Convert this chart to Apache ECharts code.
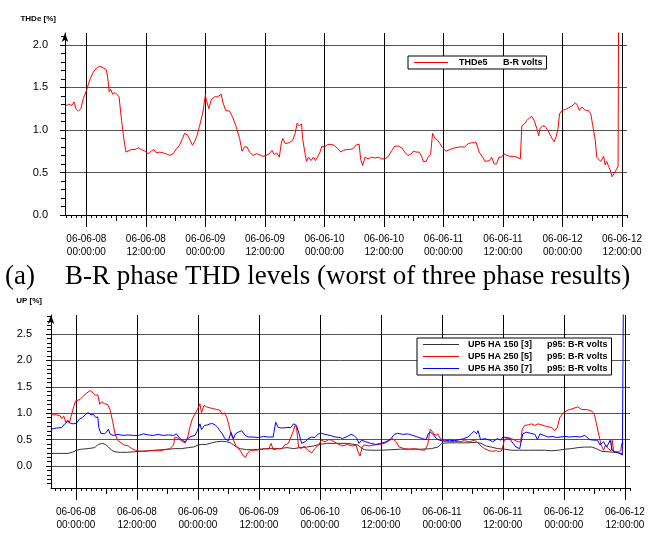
<!DOCTYPE html>
<html>
<head>
<meta charset="utf-8">
<script src="https://cdn.jsdelivr.net/npm/echarts@6/dist/echarts.min.js"></script>
<style>
html, body { margin: 0; padding: 0; background: #fff; }
#chart { width: 648px; height: 541px; }
</style>
</head>
<body>
<div id="chart"></div>
<script>
// x values are hours counted from 06-06-08 00:00:00
var labelHours = [0, 12, 24, 36, 48, 60, 72, 84, 96, 108];
var labelTexts = ['06-06-08\n00:00:00', '06-06-08\n12:00:00', '06-06-09\n00:00:00', '06-06-09\n12:00:00',
    '06-06-10\n00:00:00', '06-06-10\n12:00:00', '06-06-11\n00:00:00', '06-06-11\n12:00:00',
    '06-06-12\n00:00:00', '06-06-12\n12:00:00'];
var yLabelsTop = [0, 0.5, 1.0, 1.5, 2.0];
var yLabelsBottom = [0, 0.5, 1.0, 1.5, 2.0, 2.5];
var thdNames = ['THDe5'];
var thdColors = ['#ff0000'];
var upNames = ['UP5 HA 150 [3]', 'UP5 HA 250 [5]', 'UP5 HA 350 [7]'];
var upColors = ['#333333', '#ff0000', '#0000ff'];

// THDe5 B-R volts
var thdE5 = [[-4.3,1.28],[-3.6,1.30],[-2.9,1.29],[-2.5,1.33],[-2.1,1.25],[-1.6,1.22],[-1.1,1.25],[-0.6,1.37],[0,1.46],[0.7,1.59],[1.4,1.68],[2.1,1.73],[2.7,1.75],[3.4,1.73],[4.0,1.71],[4.3,1.62],[4.6,1.45],[4.9,1.48],[5.3,1.42],[5.8,1.44],[6.2,1.42],[6.6,1.39],[7.1,1.11],[7.6,0.88],[8.0,0.74],[8.4,0.76],[9.1,0.77],[9.8,0.77],[10.5,0.79],[11.1,0.77],[11.8,0.75],[12.5,0.72],[13.1,0.75],[13.6,0.77],[14.1,0.73],[14.8,0.74],[15.5,0.73],[16.1,0.72],[16.8,0.70],[17.5,0.72],[18.2,0.78],[18.8,0.82],[19.4,0.90],[19.8,0.96],[20.4,0.94],[20.8,0.93],[21.4,0.82],[21.8,0.86],[22.3,0.93],[22.8,1.04],[23.5,1.21],[24.0,1.41],[24.2,1.35],[24.7,1.25],[25.2,1.36],[25.9,1.39],[26.5,1.39],[27.2,1.42],[27.5,1.33],[28.1,1.23],[28.9,1.22],[29.5,1.15],[30.2,1.04],[30.9,0.90],[31.4,0.75],[31.9,0.80],[32.4,0.80],[32.9,0.74],[33.6,0.70],[34.3,0.72],[34.9,0.71],[35.6,0.69],[36.2,0.70],[36.9,0.72],[37.4,0.76],[37.9,0.71],[38.4,0.73],[38.9,0.68],[39.3,0.84],[39.6,0.90],[40.1,0.84],[40.9,0.85],[41.6,0.88],[42.1,0.96],[42.5,1.08],[42.9,1.05],[43.4,1.07],[43.6,0.90],[44.1,0.72],[44.4,0.63],[44.8,0.68],[45.3,0.64],[45.8,0.68],[46.2,0.64],[46.6,0.68],[47.1,0.74],[47.5,0.81],[48.0,0.80],[48.7,0.83],[49.3,0.83],[50.0,0.82],[50.7,0.78],[51.3,0.74],[51.8,0.76],[52.5,0.77],[53.1,0.77],[53.8,0.78],[54.5,0.83],[55.0,0.83],[55.3,0.66],[55.7,0.58],[56.2,0.68],[56.8,0.66],[57.5,0.68],[58.2,0.67],[58.9,0.68],[59.5,0.66],[60.2,0.66],[60.9,0.69],[61.5,0.75],[62.2,0.81],[62.9,0.81],[63.6,0.79],[64.2,0.74],[64.8,0.70],[65.4,0.71],[65.9,0.75],[66.5,0.74],[67.1,0.74],[67.6,0.69],[67.9,0.63],[68.5,0.63],[68.9,0.68],[69.4,0.71],[69.8,0.96],[70.3,0.90],[70.8,0.88],[71.3,0.84],[71.8,0.79],[72.5,0.75],[73.3,0.77],[74.3,0.79],[75.3,0.80],[76.3,0.80],[77.0,0.84],[77.7,0.85],[78.6,0.85],[78.8,0.86],[79.2,0.74],[79.9,0.68],[80.4,0.63],[80.8,0.61],[81.3,0.64],[81.7,0.68],[82.2,0.60],[82.7,0.60],[83.2,0.68],[83.7,0.68],[84.2,0.72],[84.8,0.70],[85.4,0.69],[86.1,0.69],[86.8,0.68],[87.5,0.66],[87.8,1.05],[88.3,1.07],[88.8,1.11],[89.3,1.14],[89.8,1.16],[90.3,1.11],[90.8,1.02],[91.2,0.93],[91.5,1.02],[92.0,1.05],[92.5,1.04],[93.0,1.00],[93.4,1.02],[93.9,0.90],[94.3,0.86],[94.7,0.92],[95.1,1.02],[95.4,1.19],[95.9,1.23],[96.6,1.24],[97.2,1.26],[97.9,1.28],[98.6,1.32],[99.0,1.29],[99.4,1.23],[99.9,1.27],[100.6,1.23],[101.2,1.23],[101.7,1.19],[102.1,1.05],[102.6,0.88],[102.9,0.68],[103.3,0.66],[103.7,0.63],[104.3,0.69],[104.6,0.59],[104.9,0.63],[105.3,0.57],[105.6,0.53],[106.0,0.45],[106.4,0.47],[106.8,0.53],[107.2,0.57],[107.3,2.4]];

// UP5 HA 150 [3] p95
var up150 = [[-4.9,0.24],[-3.5,0.24],[-1.5,0.24],[-0.5,0.27],[0.1,0.30],[1.1,0.32],[2.4,0.33],[3.7,0.35],[4.4,0.41],[5.2,0.43],[5.8,0.41],[6.4,0.36],[7.0,0.30],[7.7,0.27],[8.7,0.26],[10.0,0.26],[11.3,0.27],[12.6,0.28],[14.2,0.29],[15.5,0.30],[16.9,0.31],[18.2,0.32],[19.5,0.33],[20.8,0.33],[22.1,0.35],[23.1,0.36],[24.1,0.40],[24.7,0.41],[25.7,0.41],[26.7,0.44],[27.7,0.46],[28.7,0.47],[29.7,0.46],[30.6,0.43],[31.3,0.38],[32.3,0.33],[33.6,0.31],[34.9,0.31],[36.2,0.32],[37.5,0.33],[38.8,0.33],[40.1,0.33],[41.5,0.35],[42.8,0.33],[44.1,0.35],[45.4,0.36],[46.7,0.38],[48.0,0.41],[49.3,0.43],[50.6,0.43],[52.0,0.43],[53.4,0.43],[55.4,0.40],[56.7,0.31],[58.0,0.30],[60.0,0.30],[62.0,0.31],[63.9,0.32],[65.9,0.32],[67.9,0.32],[69.9,0.33],[71.2,0.36],[72.0,0.43],[73.2,0.44],[75.1,0.44],[77.1,0.44],[78.8,0.45],[79.7,0.43],[80.7,0.38],[81.7,0.36],[83.0,0.33],[84.3,0.32],[85.7,0.30],[87.3,0.30],[89.0,0.30],[90.9,0.30],[92.2,0.30],[93.6,0.29],[94.9,0.30],[96.2,0.32],[97.5,0.33],[98.8,0.35],[100.1,0.36],[101.5,0.36],[102.4,0.33],[103.4,0.28],[104.7,0.27],[106.1,0.26],[107.5,0.24]];

// UP5 HA 250 [5] p95
var up250 = [[-4.9,0.97],[-3.8,0.97],[-3.1,0.95],[-2.8,0.90],[-2.4,0.95],[-2.0,0.83],[-1.6,0.87],[-1.3,0.81],[-1.0,0.92],[-0.5,1.10],[-0.1,1.23],[0.8,1.26],[1.4,1.32],[2.1,1.38],[2.8,1.43],[3.4,1.38],[3.9,1.34],[4.3,1.35],[4.7,1.17],[5.1,1.22],[5.6,1.18],[6.2,1.17],[6.7,1.07],[7.2,0.86],[7.7,0.61],[8.2,0.49],[8.9,0.44],[9.5,0.40],[10.3,0.38],[11.0,0.33],[11.7,0.30],[12.6,0.28],[13.6,0.28],[14.6,0.29],[15.5,0.29],[16.5,0.29],[17.5,0.31],[18.5,0.33],[19.2,0.40],[19.5,0.55],[19.8,0.58],[20.3,0.52],[20.8,0.47],[21.5,0.44],[22.0,0.55],[22.4,0.73],[22.9,0.89],[23.4,0.98],[23.9,1.07],[24.4,1.18],[24.7,1.01],[25.2,1.15],[25.7,1.12],[26.4,1.10],[27.0,1.09],[27.7,1.07],[28.3,1.06],[28.8,0.98],[29.2,1.01],[29.7,0.92],[30.1,0.77],[30.5,0.61],[31.0,0.49],[31.6,0.36],[32.3,0.30],[32.8,0.21],[33.3,0.16],[33.8,0.25],[34.4,0.30],[35.2,0.30],[36.2,0.31],[37.2,0.33],[37.9,0.32],[38.4,0.43],[38.8,0.31],[39.8,0.33],[40.5,0.33],[41.1,0.40],[41.8,0.43],[42.3,0.55],[42.8,0.67],[43.1,0.77],[43.4,0.73],[43.8,0.36],[44.3,0.33],[44.9,0.38],[45.6,0.30],[46.4,0.25],[47.0,0.33],[47.7,0.40],[48.3,0.49],[49.0,0.46],[49.7,0.50],[50.3,0.49],[51.3,0.43],[52.0,0.40],[52.4,0.38],[53.4,0.41],[54.4,0.38],[55.1,0.40],[55.5,0.27],[55.9,0.19],[56.3,0.36],[56.7,0.40],[57.7,0.38],[58.7,0.40],[59.7,0.41],[60.7,0.43],[61.6,0.48],[62.3,0.52],[63.0,0.46],[63.6,0.36],[64.6,0.33],[65.6,0.32],[66.6,0.33],[67.6,0.31],[68.6,0.30],[69.2,0.40],[69.7,0.70],[70.2,0.64],[70.7,0.58],[71.2,0.61],[71.8,0.50],[72.5,0.48],[73.5,0.46],[74.5,0.47],[75.5,0.46],[76.4,0.48],[77.4,0.46],[78.4,0.49],[79.1,0.44],[79.7,0.38],[80.4,0.33],[81.1,0.30],[81.8,0.28],[82.7,0.29],[83.4,0.27],[83.8,0.30],[84.3,0.50],[85.0,0.54],[85.7,0.52],[86.3,0.49],[87.0,0.46],[87.5,0.46],[87.8,0.70],[88.3,0.77],[89.0,0.78],[89.6,0.80],[90.3,0.77],[90.9,0.80],[91.9,0.77],[92.6,0.75],[93.6,0.73],[94.2,0.67],[94.7,0.73],[95.2,0.92],[95.9,1.01],[96.8,1.06],[97.8,1.09],[98.7,1.12],[99.5,1.07],[100.5,1.07],[101.5,1.04],[102.0,0.98],[102.4,0.80],[102.9,0.58],[103.3,0.40],[103.8,0.30],[104.2,0.40],[104.7,0.33],[105.3,0.29],[105.5,0.49],[105.8,0.27],[106.7,0.27],[107.2,0.30],[107.4,0.43],[107.7,0.43]];

// UP5 HA 350 [7] p95
var up350 = [[-4.9,0.70],[-3.8,0.72],[-2.8,0.73],[-2.2,0.80],[-1.5,0.85],[-1.0,0.81],[-0.5,0.80],[0.1,0.81],[0.7,0.89],[1.3,0.92],[1.9,0.98],[2.4,1.01],[3.0,0.97],[3.4,0.98],[3.9,0.92],[4.3,0.93],[4.5,0.73],[4.9,0.62],[5.6,0.61],[6.0,0.64],[6.4,0.70],[6.7,0.61],[7.3,0.58],[8.3,0.60],[9.3,0.58],[10.3,0.59],[11.3,0.58],[12.3,0.58],[13.3,0.61],[14.2,0.59],[15.2,0.58],[16.2,0.60],[17.2,0.58],[18.2,0.59],[19.2,0.58],[19.8,0.61],[20.3,0.54],[20.9,0.49],[21.5,0.46],[22.0,0.52],[22.6,0.56],[23.4,0.58],[23.9,0.67],[24.4,0.80],[24.7,0.69],[25.3,0.77],[25.9,0.78],[26.7,0.81],[27.4,0.78],[27.9,0.73],[28.3,0.67],[28.8,0.61],[29.3,0.52],[30.0,0.48],[30.5,0.64],[31.0,0.52],[31.4,0.61],[31.9,0.64],[32.6,0.67],[33.3,0.58],[33.9,0.55],[34.9,0.55],[35.9,0.54],[36.9,0.56],[37.9,0.55],[38.8,0.55],[39.3,0.83],[39.8,0.73],[40.5,0.72],[41.5,0.73],[42.3,0.73],[42.8,0.80],[43.4,0.77],[43.9,0.61],[44.4,0.43],[45.1,0.46],[45.7,0.52],[46.4,0.55],[47.0,0.54],[47.7,0.61],[48.3,0.62],[49.0,0.60],[50.0,0.58],[51.0,0.55],[52.0,0.54],[52.4,0.52],[53.4,0.56],[54.1,0.60],[54.7,0.58],[55.3,0.52],[55.7,0.43],[56.2,0.49],[57.0,0.46],[58.0,0.43],[59.0,0.41],[60.0,0.43],[61.0,0.46],[62.0,0.52],[62.6,0.60],[63.3,0.62],[64.3,0.60],[65.3,0.61],[66.3,0.58],[67.2,0.55],[68.2,0.52],[68.9,0.50],[69.3,0.61],[69.7,0.64],[70.2,0.61],[70.9,0.52],[71.5,0.49],[72.4,0.47],[73.5,0.49],[74.5,0.48],[75.5,0.50],[76.3,0.52],[77.1,0.55],[77.8,0.61],[78.3,0.66],[78.8,0.61],[79.1,0.67],[79.6,0.50],[80.4,0.52],[81.4,0.49],[82.0,0.46],[82.9,0.52],[83.6,0.49],[84.0,0.55],[84.7,0.54],[85.3,0.52],[86.0,0.43],[86.6,0.36],[87.3,0.33],[87.6,0.32],[87.9,0.61],[88.6,0.64],[89.5,0.62],[90.3,0.60],[90.8,0.50],[91.3,0.61],[92.1,0.58],[92.9,0.55],[93.9,0.56],[94.5,0.54],[95.2,0.55],[96.2,0.56],[97.2,0.55],[98.2,0.56],[99.2,0.55],[100.1,0.58],[101.1,0.50],[102.0,0.49],[102.6,0.49],[103.1,0.40],[103.8,0.46],[104.4,0.36],[105.1,0.49],[105.5,0.30],[106.1,0.27],[106.7,0.25],[107.5,0.21],[107.7,3.2]];

var FONT = '"Liberation Sans", Arial, sans-serif';

function range(a, b, step) {
    var out = [];
    for (var v = a; v <= b; v += step) out.push(v);
    return out;
}

function xAxis(gi, min, max, tickValues, tickLen, withLine, withLabels, withSplit) {
    return {
        type: 'value', gridIndex: gi, min: min, max: max, position: 'bottom',
        axisLine: { show: withLine, onZero: false, lineStyle: { color: '#000', width: 1 } },
        axisTick: { show: true, customValues: tickValues, length: tickLen, lineStyle: { color: '#000' } },
        axisLabel: {
            show: withLabels, customValues: labelHours, margin: 18, color: '#000',
            fontFamily: FONT, fontSize: 10, lineHeight: 13,
            formatter: function (v) { return labelTexts[labelHours.indexOf(v)]; }
        },
        splitLine: { show: withSplit, lineStyle: { color: '#000', width: 1 } }
    };
}

// three stacked x axes per grid: hour ticks + labels, 6h ticks, 12h ticks with grid lines
function makeXAxes(gi, min, max) {
    return [
        xAxis(gi, min, max, range(Math.ceil(min), Math.floor(max), 1), 3, true, true, false),
        xAxis(gi, min, max, range(6, 102, 12), 6, false, false, false),
        xAxis(gi, min, max, labelHours, 12, false, false, true)
    ];
}

function makeYAxis(gi, min, max, name, labels, margin, minorSplit) {
    return {
        type: 'value', gridIndex: gi, min: min, max: max,
        name: name, nameLocation: 'end', nameGap: 10,
        nameTextStyle: { fontFamily: FONT, fontWeight: 'bold', fontSize: 8, color: '#000', align: 'right', padding: [0, 9, 0, 0] },
        axisLine: { show: true, onZero: false, symbol: ['none', 'arrow'], symbolSize: [5, 9], lineStyle: { color: '#000' } },
        axisTick: { show: true, customValues: labels, length: 5, lineStyle: { color: '#000' } },
        minorTick: { show: true, splitNumber: minorSplit, length: 4, lineStyle: { color: '#000' } },
        axisLabel: {
            customValues: labels, margin: margin, color: '#000', fontFamily: FONT, fontSize: 11,
            formatter: function (v) { return v.toFixed(1); }
        },
        splitLine: { show: true, lineStyle: { color: '#555', width: 1 } }
    };
}

function lineSeries(name, color, xi, yi, data) {
    return {
        name: name, type: 'line', xAxisIndex: xi, yAxisIndex: yi, data: data,
        symbol: 'none', color: color, lineStyle: { color: color, width: 1 }, itemStyle: { color: color }
    };
}

// legend box: the line key is a coloured rich-text strip, then two text columns
function makeLegend(names, colors, left, top, keyWidth, keyGap, colWidth, lineH, itemGap, suffix) {
    var rich = {
        a: { width: colWidth, padding: [0, 0, 0, keyGap], fontFamily: FONT, fontWeight: 'bold', fontSize: 9, lineHeight: lineH, color: '#000' },
        b: { fontFamily: FONT, fontWeight: 'bold', fontSize: 9, lineHeight: lineH, color: '#000' }
    };
    colors.forEach(function (c, i) {
        rich['k' + i] = { width: keyWidth, height: 1, backgroundColor: c, verticalAlign: 'middle' };
    });
    return {
        data: names, left: left, top: top, orient: 'vertical',
        backgroundColor: '#fff', borderColor: '#000', borderWidth: 1, borderRadius: 0,
        padding: [2, 4, 2, 0], itemWidth: 0, itemHeight: 0, itemGap: itemGap,
        itemStyle: { opacity: 0 }, lineStyle: { opacity: 0 },
        textStyle: { fontFamily: FONT, fontWeight: 'bold', fontSize: 9, color: '#000', rich: rich },
        formatter: function (name) {
            var i = names.indexOf(name);
            return '{k' + i + '|}{a|' + name + '}{b|' + suffix + '}';
        }
    };
}

var chart = echarts.init(document.getElementById('chart'));
var option = {
    animation: false,
    backgroundColor: '#fff',
    grid: [
        { left: 65, top: 33, width: 562, height: 182 },
        { left: 51, top: 315, width: 579, height: 173 }
    ],
    xAxis: makeXAxes(0, -4.3, 109).concat(makeXAxes(1, -4.9, 109)),
    yAxis: [
        makeYAxis(0, 0, 2.14, 'THDe [%]', yLabelsTop, 17, 5),
        makeYAxis(1, -0.415, 2.86, 'UP [%]', yLabelsBottom, 19, 6)
    ],
    legend: [
        makeLegend(thdNames, thdColors, 408, 56, 34, 11, 44, 11, 0, 'B-R volts'),
        makeLegend(upNames, upColors, 417, 338, 36, 9, 79, 10.5, 3, 'p95: B-R volts')
    ],
    graphic: [
        { type: 'text', left: 5, top: 263, style: { text: '(a)', font: '27px "Liberation Serif"', fill: '#000' } },
        { type: 'text', left: 65, top: 263, style: { text: 'B-R phase THD levels (worst of three phase results)', font: '27px "Liberation Serif"', fill: '#000' } }
    ],
    series: [
        lineSeries(thdNames[0], thdColors[0], 0, 0, thdE5),
        lineSeries(upNames[0], upColors[0], 3, 1, up150),
        lineSeries(upNames[1], upColors[1], 3, 1, up250),
        lineSeries(upNames[2], upColors[2], 3, 1, up350)
    ]
};
chart.setOption(option);
</script>
</body>
</html>
